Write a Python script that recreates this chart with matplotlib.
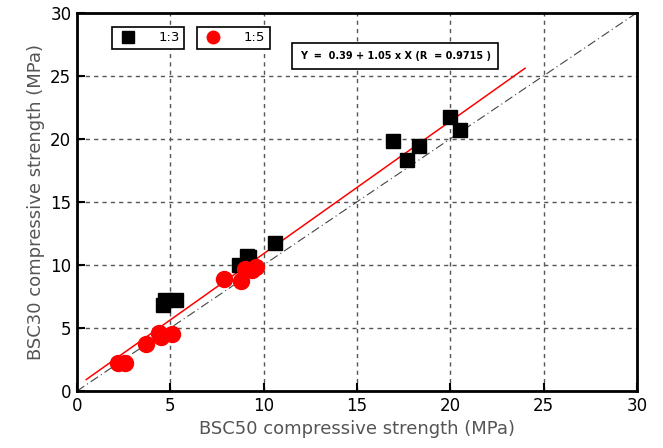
import matplotlib.pyplot as plt
from matplotlib.lines import Line2D

# 1:3 mix (black squares)
x13 = [4.6, 4.7, 5.3, 8.7, 9.1, 9.2, 10.6, 16.9, 17.7, 18.3, 20.0, 20.5]
y13 = [6.8, 7.2, 7.2, 10.0, 10.7, 10.6, 11.7, 19.8, 18.3, 19.4, 21.7, 20.7]
# 1:5 mix (red circles)
x15 = [2.2, 2.6, 3.7, 4.4, 4.5, 5.1, 7.9, 8.8, 9.0, 9.4, 9.6]
y15 = [2.2, 2.2, 3.7, 4.6, 4.3, 4.5, 8.9, 8.7, 9.7, 9.6, 9.8]

a, b = 0.39, 1.05
fit_x = [0.5, 24]
fit_y = [a + b * v for v in fit_x]

fig = plt.figure(figsize=(6.63, 4.48), dpi=100)
ax = fig.add_axes([0.116, 0.127, 0.845, 0.845])

ax.plot([0, 30], [0, 30], color='#444444', lw=0.8, ls='-.', dashes=(8, 3, 1, 3))
ax.plot(fit_x, fit_y, color='red', lw=1.1)
ax.plot(x13, y13, 's', color='black', ms=10.5, ls='none')
ax.plot(x15, y15, 'o', color='red', ms=11.5, ls='none')

ax.set_xlim(0, 30)
ax.set_ylim(0, 30)
ax.set_xticks(range(0, 31, 5))
ax.set_yticks(range(0, 31, 5))
ax.grid(True, color='#555555', ls=(0, (3, 3)), lw=1)
ax.tick_params(direction='in', length=6, width=1.5, labelsize=12, pad=4)
for s in ax.spines.values():
    s.set_linewidth(2)

ax.set_xlabel('BSC50 compressive strength (MPa)', fontsize=13, color='#555555')
ax.set_ylabel('BSC30 compressive strength (MPa)', fontsize=13, color='#555555')

h1 = Line2D([], [], marker='s', color='black', ls='none', ms=8)
h2 = Line2D([], [], marker='o', color='red', ls='none', ms=9)
leg_kw = dict(frameon=True, fancybox=False, edgecolor='black', framealpha=1,
              fontsize=9.5, handletextpad=1.4, borderpad=0.35, handlelength=1.8)
leg1 = ax.legend([h1], ['1:3'], loc='upper left', bbox_to_anchor=(0.05, 0.98), **leg_kw)
leg1.get_frame().set_linewidth(1.2)
ax.add_artist(leg1)
leg2 = ax.legend([h2], ['1:5'], loc='upper left', bbox_to_anchor=(0.202, 0.98), **leg_kw)
leg2.get_frame().set_linewidth(1.2)

ax.text(0.568, 0.885, 'Y  =  0.39 + 1.05 x X (R  = 0.9715 )', transform=ax.transAxes,
        ha='center', va='center', fontsize=7, fontweight='bold',
        bbox=dict(boxstyle='square,pad=0.8', fc='white', ec='black', lw=1.2))

fig.savefig('out.png', dpi=100)
